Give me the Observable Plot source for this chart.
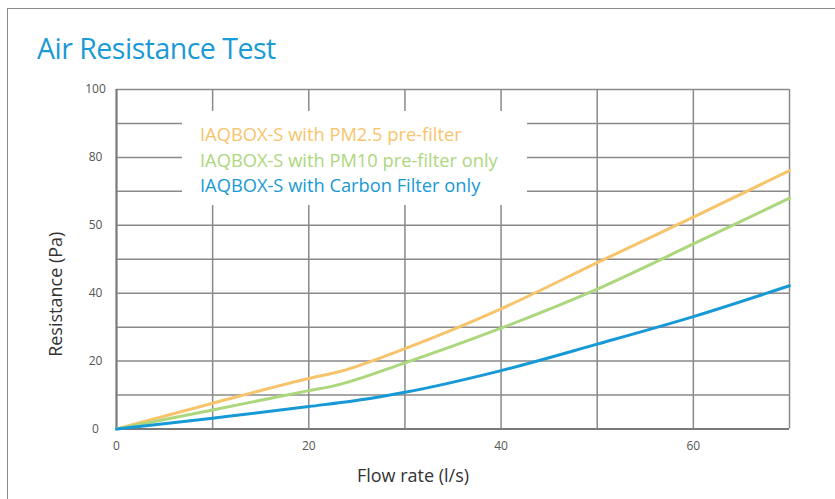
<!DOCTYPE html>
<html>
<head>
<meta charset="utf-8">
<script src="https://cdn.jsdelivr.net/npm/d3@7"></script>
<script src="https://cdn.jsdelivr.net/npm/@observablehq/plot@0.6"></script>
<style>
  html, body { margin: 0; padding: 0; background: #fff; }
  #wrap { position: relative; width: 835px; height: 499px; overflow: hidden; font-family: "Open Sans", sans-serif; }
  #border { position: absolute; left: 7px; top: 8px; width: 840px; height: 500px; border-left: 1.5px solid #8a8a8a; border-top: 1.5px solid #8a8a8a; }
  #title { position: absolute; left: 37px; top: 29px; font-size: 28.5px; color: #1a9ad6; letter-spacing: -0.5px; white-space: nowrap; }
  #chart { position: absolute; left: 0; top: 0; }
  #legend { position: absolute; left: 182px; top: 111px; width: 345px; height: 94px; background: #fff; }
  #legend div { position: absolute; left: 18px; font-size: 18.3px; white-space: nowrap; line-height: 1; }
</style>
</head>
<body>
<div id="wrap">
  <div id="border"></div>
  <div id="chart"></div>
  <div id="legend"></div>
  <div id="title">Air Resistance Test</div>
</div>
<script>
const seriesNames = [
  "IAQBOX-S with PM2.5 pre-filter",
  "IAQBOX-S with PM10 pre-filter only",
  "IAQBOX-S with Carbon Filter only"
];
const seriesColors = ["#f7c46c", "#acd77c", "#1799d6"];

const pm25Flow = [0, 10, 20, 23.3, 30, 40, 50, 60, 70];
const pm25Res  = [0, 7.6, 14.9, 17.0, 23.7, 35.4, 49.0, 62.4, 76.1];

const pm10Flow = [0, 10, 20, 22.6, 30, 40, 50, 60, 70];
const pm10Res  = [0, 5.6, 11.3, 12.7, 19.5, 29.7, 41.2, 54.5, 68.0];

const carbonFlow = [0, 10, 20, 27, 30, 40, 50, 60, 70];
const carbonRes  = [0, 3.2, 6.6, 9.3, 10.8, 17.2, 25.0, 33.1, 42.2];

const xTicks = [0, 20, 40, 60];
const yTicks = [0, 20, 40, 60, 80, 100];
const yTickLabels = ["0", "20", "40", "50", "80", "100"];
const gridX = [0, 10, 20, 30, 40, 50, 60, 70];
const gridY = [0, 10, 20, 30, 40, 50, 60, 70, 80, 90, 100];

const xLabel = "Flow rate (l/s)";
const yLabel = "Resistance (Pa)";

const rows = [];
[[pm25Flow, pm25Res], [pm10Flow, pm10Res], [carbonFlow, carbonRes]].forEach(([xs, ys], i) => {
  xs.forEach((x, j) => rows.push({series: seriesNames[i], flow: x, res: ys[j]}));
});

const chart = Plot.plot({
  width: 835,
  height: 499,
  marginLeft: 116,
  marginRight: 46,
  marginTop: 89,
  marginBottom: 70.5,
  style: {fontFamily: "Open Sans, sans-serif", background: "transparent"},
  x: {domain: [0, 70]},
  y: {domain: [0, 100]},
  color: {domain: seriesNames, range: seriesColors},
  marks: [
    Plot.gridX(gridX, {stroke: "#8a8a8a", strokeOpacity: 1, strokeWidth: 1.5}),
    Plot.gridY(gridY, {stroke: "#8a8a8a", strokeOpacity: 1, strokeWidth: 1.5}),
    Plot.ruleX([0], {stroke: "#7a7a7a", strokeWidth: 2}),
    Plot.ruleY([0], {stroke: "#7a7a7a", strokeWidth: 2}),
    Plot.axisX(xTicks, {tickSize: 0, tickPadding: 12, fontSize: 12, fill: "#555", label: null}),
    Plot.axisY(yTicks, {tickSize: 0, tickPadding: 21, textAnchor: "middle", fontSize: 12, fill: "#555", label: null,
      tickFormat: (d) => yTickLabels[yTicks.indexOf(d)]}),
    Plot.line(rows, {x: "flow", y: "res", z: "series", stroke: "series", strokeWidth: 3, curve: "monotone-x"}),
    Plot.text([yLabel], {frameAnchor: "left", textAnchor: "middle", rotate: -90, dx: -60, dy: 35, fontSize: 18, fill: "#333", text: (d) => d}),
    Plot.text([xLabel], {frameAnchor: "bottom", dx: -40, dy: 53, fontSize: 18, fill: "#333", text: (d) => d})
  ]
});
document.getElementById("chart").appendChild(chart);

const legend = document.getElementById("legend");
seriesNames.forEach((name, i) => {
  const el = document.createElement("div");
  el.textContent = name;
  el.style.color = seriesColors[i];
  el.style.top = (14 + i * 25.7) + "px";
  legend.appendChild(el);
});
</script>
</body>
</html>
